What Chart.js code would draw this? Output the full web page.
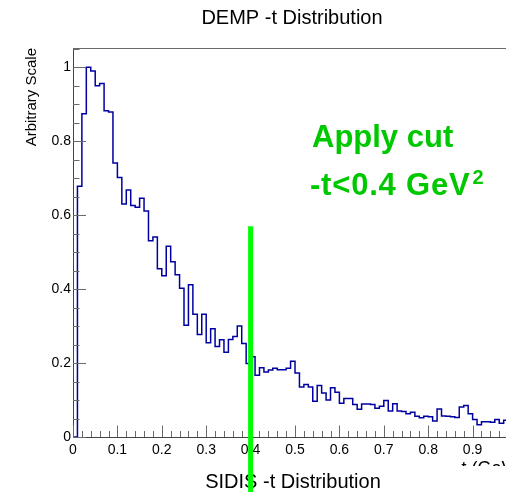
<!DOCTYPE html>
<html>
<head>
<meta charset="utf-8">
<script src="https://cdn.jsdelivr.net/npm/chart.js@4.4.1/dist/chart.umd.min.js"></script>
<style>
  html, body { margin: 0; padding: 0; background: #fff; overflow: hidden; }
  #wrap { position: relative; width: 560px; height: 492px; }
</style>
</head>
<body>
<div id="wrap"><canvas id="c" width="560" height="492"></canvas></div>
<script>
// DEMP -t distribution, 0.01 GeV^2 bins starting at -t = 0
const T_BIN_WIDTH = 0.01;
const demp_counts = [
  0.000, 0.678, 0.874, 1.000, 0.990, 0.950, 0.956, 0.882, 0.879, 0.741,
  0.702, 0.630, 0.668, 0.626, 0.621, 0.646, 0.611, 0.531, 0.541, 0.455,
  0.436, 0.516, 0.474, 0.439, 0.402, 0.302, 0.412, 0.332, 0.277, 0.332,
  0.255, 0.293, 0.245, 0.263, 0.229, 0.264, 0.272, 0.300, 0.253, 0.199,
  0.217, 0.167, 0.187, 0.176, 0.181, 0.186, 0.182, 0.182, 0.186, 0.205,
  0.173, 0.135, 0.142, 0.135, 0.097, 0.139, 0.119, 0.100, 0.133, 0.121,
  0.091, 0.104, 0.104, 0.088, 0.075, 0.089, 0.089, 0.088, 0.078, 0.083,
  0.099, 0.070, 0.090, 0.070, 0.069, 0.063, 0.067, 0.056, 0.052, 0.056,
  0.055, 0.043, 0.076, 0.057, 0.056, 0.055, 0.053, 0.081, 0.085, 0.063,
  0.047, 0.033, 0.041, 0.041, 0.040, 0.047, 0.037, 0.045
];
const X_TICKS = [0, 0.1, 0.2, 0.3, 0.4, 0.5, 0.6, 0.7, 0.8, 0.9, 1];
const Y_TICKS = [0, 0.2, 0.4, 0.6, 0.8, 1];
const X_MAX = 1.0;
const Y_MAX = 1.052;

// selection cut on -t (GeV^2) and the top of its marker line
const CUT_T = 0.4;
const CUT_LINE_TOP = 0.57;

const FONT = "'Liberation Sans', Arial, Helvetica, sans-serif";
const CUT_GREEN = '#00c800';

// histogram outline: one point per bin lower edge, closed at the last upper edge
const histPoints = demp_counts.map((v, i) => ({ x: i * T_BIN_WIDTH, y: v }));
histPoints.push({ x: demp_counts.length * T_BIN_WIDTH, y: demp_counts[demp_counts.length - 1] });

// ROOT-style frame: inward tick marks and a top border
const frameTicks = {
  id: 'frameTicks',
  afterDraw(chart) {
    const { ctx, chartArea: a, scales: { x, y } } = chart;
    ctx.save();
    ctx.strokeStyle = '#6a6a6a';
    ctx.lineWidth = 1;
    ctx.beginPath();
    ctx.moveTo(a.left, a.top + 0.5);
    ctx.lineTo(a.right, a.top + 0.5);
    for (let k = 0; k * 0.02 <= X_MAX + 1e-9; k++) {
      const px = Math.round(x.getPixelForValue(k * 0.02)) + 0.5;
      const len = k % 5 === 0 ? 11.5 : 6;
      ctx.moveTo(px, a.bottom);
      ctx.lineTo(px, a.bottom - len);
    }
    for (let k = 0; k * 0.05 <= Y_MAX + 1e-9; k++) {
      const py = Math.round(y.getPixelForValue(k * 0.05)) + 0.5;
      const len = k % 4 === 0 ? 13 : 6.5;
      ctx.moveTo(a.left, py);
      ctx.lineTo(a.left + len, py);
    }
    ctx.stroke();
    ctx.restore();
  }
};

// titles, axis captions, cut marker and cut annotation
const annotations = {
  id: 'annotations',
  afterDraw(chart) {
    const { ctx, scales: { x, y }, height } = chart;
    ctx.save();
    ctx.fillStyle = '#000';
    ctx.textBaseline = 'alphabetic';

    ctx.font = '20px ' + FONT;
    ctx.textAlign = 'center';
    ctx.fillText('DEMP -t Distribution', 292, 24);
    ctx.fillText('SIDIS -t Distribution', 293, 488);

    // y axis title, right-aligned at the top of the frame
    ctx.save();
    ctx.translate(36, 48);
    ctx.rotate(-Math.PI / 2);
    ctx.font = '15px ' + FONT;
    ctx.textAlign = 'right';
    ctx.fillText('Arbitrary Scale', 0, 0);
    ctx.restore();

    // x axis title, partly hidden below the pad edge
    ctx.save();
    ctx.beginPath();
    ctx.rect(0, 0, chart.width, 466);
    ctx.clip();
    ctx.font = '18px ' + FONT;
    ctx.textAlign = 'left';
    ctx.fillText('-t (GeV\u00B2)', 455.5, 474);
    ctx.restore();

    // cut marker
    const cx = x.getPixelForValue(CUT_T);
    ctx.strokeStyle = '#00ff00';
    ctx.lineWidth = 5;
    ctx.beginPath();
    ctx.moveTo(cx, y.getPixelForValue(CUT_LINE_TOP));
    ctx.lineTo(cx, height);
    ctx.stroke();

    // cut annotation
    ctx.fillStyle = CUT_GREEN;
    ctx.textAlign = 'left';
    ctx.font = 'bold 31px ' + FONT;
    ctx.fillText('Apply cut', 312, 147);
    if ('letterSpacing' in ctx) ctx.letterSpacing = '0.8px';
    ctx.fillText('-t<0.4 GeV', 310, 195);
    if ('letterSpacing' in ctx) ctx.letterSpacing = '0px';
    ctx.font = 'bold 20px ' + FONT;
    ctx.fillText('2', 472.5, 183.5);
    ctx.restore();
  }
};

new Chart(document.getElementById('c'), {
  type: 'line',
  data: {
    datasets: [{
      data: histPoints,
      stepped: 'before',
      borderColor: 'rgb(0,0,160)',
      borderWidth: 1.5,
      pointRadius: 0,
      fill: false,
      tension: 0
    }]
  },
  options: {
    responsive: false,
    animation: false,
    devicePixelRatio: 1,
    layout: { padding: { top: 48, right: 43, left: 0, bottom: 0 } },
    plugins: { legend: { display: false }, title: { display: false }, tooltip: { enabled: false } },
    scales: {
      x: {
        type: 'linear',
        min: 0,
        max: X_MAX,
        afterFit(s) { s.height = 55; },
        afterBuildTicks(s) { s.ticks = X_TICKS.map(v => ({ value: v })); },
        grid: { display: false, drawTicks: false },
        border: { display: true, color: '#444', width: 1 },
        ticks: {
          padding: 5,
          maxRotation: 0,
          autoSkip: false,
          color: '#000',
          font: { family: FONT, size: 14 },
          callback: v => String(v)
        }
      },
      y: {
        type: 'linear',
        min: 0,
        max: Y_MAX,
        afterFit(s) { s.width = 73; },
        afterBuildTicks(s) { s.ticks = Y_TICKS.map(v => ({ value: v })); },
        grid: { display: false, drawTicks: false },
        border: { display: true, color: '#444', width: 1 },
        ticks: {
          padding: 2,
          autoSkip: false,
          color: '#000',
          font: { family: FONT, size: 14 },
          callback: v => String(v)
        }
      }
    }
  },
  plugins: [frameTicks, annotations]
});
</script>
</body>
</html>
